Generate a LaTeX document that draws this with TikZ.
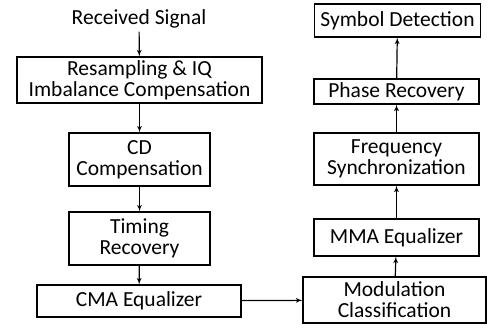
\documentclass[tikz,border=0pt]{standalone}
\usepackage{fontspec}
\setmainfont{Carlito}
\usetikzlibrary{arrows, positioning}

\begin{document}
\begin{tikzpicture}[->,>=latex',x=1pt,y=-1pt,line width=1.2pt,font=\fontsize{21.5}{21}\selectfont]
	\tikzset{block/.style={draw, rectangle, align=center, inner sep=0pt, line width=1.1pt}}
	\useasboundingbox (0,0) rectangle (487,327);
	\node (sig) at (139,18.5) {Received Signal};
	\node[block, minimum width=245pt, minimum height=46pt] (resamp) at (139.5,80) {Resampling \& IQ\\Imbalance Compensation};
	\node[block, minimum width=141pt, minimum height=53pt] (cd) at (139.5,159.5) {CD\\Compensation};
	\node[block, minimum width=141pt, minimum height=53pt] (timing) at (139.5,238.5) {Timing\\Recovery};
	\node[block, minimum width=204pt, minimum height=32pt] (cma) at (139,301) {CMA Equalizer};
	\node[block, minimum width=183pt, minimum height=46pt] (modcls) at (394.5,300) {Modulation\\Classification};
	\node[block, minimum width=165pt, minimum height=37pt] (mma) at (396.5,237.5) {MMA Equalizer};
	\node[block, minimum width=165pt, minimum height=52pt] (freq) at (396.5,159) {Frequency\\Synchronization};
	\node[block, minimum width=165pt, minimum height=25pt] (phase) at (396.5,91.5) {Phase Recovery};
	\node[block, minimum width=166pt, minimum height=33pt] (symdet) at (397.5,20.5) {Symbol Detection};
	\path
		(sig) edge (resamp)
		(resamp) edge (cd)
		(cd) edge (timing)
		(timing) edge (cma)
		(cma) edge (modcls)
		(modcls) edge (mma)
		(mma) edge (freq)
		(freq) edge (phase)
		(phase) edge (symdet);
\end{tikzpicture}
\end{document}
